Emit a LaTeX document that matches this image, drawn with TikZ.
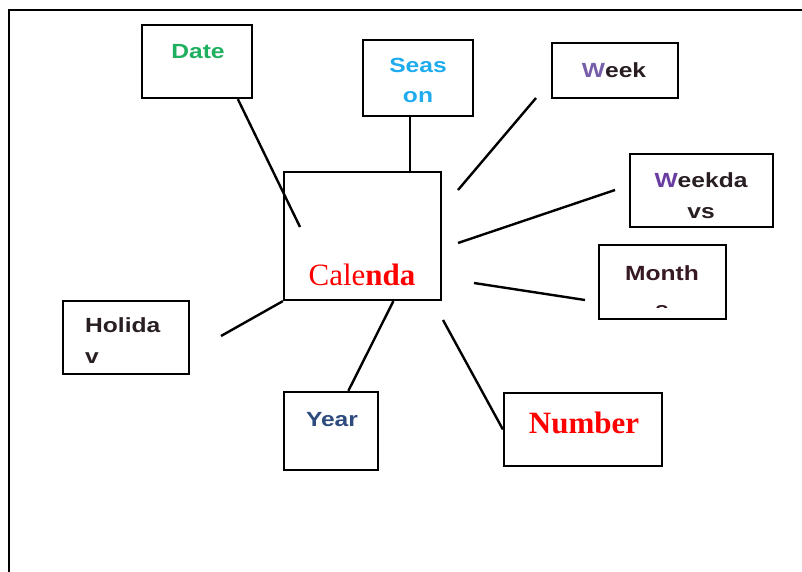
\documentclass[tikz,border=0pt]{standalone}
\usepackage{fontspec}
\setmainfont{Liberation Serif}
\newfontfamily\sansb[FakeStretch=1.2,BoldFont={Liberation Sans Bold}]{Liberation Sans}
\usetikzlibrary{calc}
\definecolor{dategreen}{RGB}{30,175,95}
\definecolor{seasblue}{RGB}{30,172,238}
\definecolor{weekpurple}{RGB}{120,95,170}
\definecolor{wkdpurple}{RGB}{105,60,160}
\definecolor{darktext}{RGB}{40,30,35}
\definecolor{monthtext}{RGB}{55,25,35}
\definecolor{yearblue}{RGB}{45,75,125}
\definecolor{calred}{RGB}{255,0,0}
\tikzset{
  box/.style={draw, line width=2.2pt, inner sep=0pt, fill=none},
  conn/.style={line width=2.4pt},
  sanslbl/.style={font=\sansb\bfseries\fontsize{20.5}{24}\selectfont, inner sep=0pt, anchor=base},
  seriflbl/.style={font=\fontsize{31}{36}\selectfont, inner sep=0pt, anchor=base}
}
\begin{document}
\begin{tikzpicture}[x=1pt,y=-1pt]
\useasboundingbox (0,0) rectangle (802,572);
\clip (0,0) rectangle (802,572);
% outer frame
\draw[line width=2.2pt] (9,590) -- (9,10) -- (810,10);
% boxes
\node[box, minimum width=110pt, minimum height=73pt] (date) at (197,61.5) {};
\node[box, minimum width=110pt, minimum height=76pt] (seas) at (418,78) {};
\node[box, minimum width=126pt, minimum height=55pt] (week) at (615,70.5) {};
\node[box, minimum width=143pt, minimum height=73pt] (wkd) at (701.5,190.5) {};
\node[box, minimum width=127pt, minimum height=74pt] (month) at (662.5,282) {};
\node[box, minimum width=157pt, minimum height=128pt] (cal) at (362.5,236) {};
\node[box, minimum width=126pt, minimum height=73pt] (hol) at (126,337.5) {};
\node[box, minimum width=94pt, minimum height=78pt] (year) at (331,431) {};
\node[box, minimum width=158pt, minimum height=73pt] (num) at (583,429.5) {};
% labels
\node[sanslbl, text=dategreen] (datet) at (198,59) {Date};
\node[sanslbl, text=seasblue] (seast1) at (418,73) {Seas};
\node[sanslbl, text=seasblue] (seast2) at (418,103) {on};
\node[sanslbl, text=darktext] (weekt) at (614,78) {\textcolor{weekpurple}{W}eek};
\node[sanslbl, text=darktext] (wkdt1) at (701,187) {\textcolor{wkdpurple}{W}eekda};
\node[sanslbl, text=darktext] (wkdt2) at (701,218) {vs};
\node[sanslbl, text=monthtext] (montht1) at (662,280) {Month};
\begin{scope}
\clip (599,245) rectangle (726,307);
\node[sanslbl, text=monthtext] (montht2) at (662,316) {s};
\end{scope}
\node[seriflbl, text=calred] (calt) at (362,285) {Cale\textbf{nda}};
\node[sanslbl, text=darktext, anchor=base west] (holt1) at (85,332) {Holida};
\node[sanslbl, text=darktext, anchor=base west] (holt2) at (85,363) {v};
\node[sanslbl, text=yearblue] (yeart) at (332,426) {Year};
\node[seriflbl, text=calred] (numt) at (584,433) {\textbf{Number}};
% free ends of connectors
\coordinate (dateend) at (300,227);
\coordinate (seasfoot) at (410,172);
\coordinate (weekA) at (458,190);
\coordinate (weekB) at (536,98);
\coordinate (wkdA) at (458,243);
\coordinate (wkdB) at (615,190);
\coordinate (monA) at (474,283);
\coordinate (monB) at (585,300);
\coordinate (numA) at (443,320);
\coordinate (holB) at (221,336);
% connectors
\draw[conn] ($(date.south west)!0.864!(date.south east)$) -- (dateend);
\draw[conn] (seasfoot |- seas.south) -- (seasfoot);
\draw[conn] (weekA) -- (weekB);
\draw[conn] (wkdA) -- (wkdB);
\draw[conn] (monA) -- (monB);
\draw[conn] (numA) -- (num.west);
\draw[conn] ($(cal.south west)!0.694!(cal.south east)$) -- ($(year.north west)!0.68!(year.north east)$);
\draw[conn] (cal.south west) -- (holB);
\end{tikzpicture}
\end{document}
